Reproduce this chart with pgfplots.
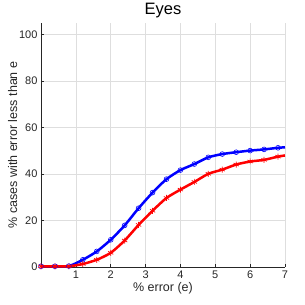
\documentclass[border=0pt]{standalone}
\usepackage{pgfplots}
\pgfplotsset{compat=1.18}
\usepackage{fontspec}
\setmainfont{Liberation Sans}
\definecolor{axgray}{RGB}{38,38,38}
\definecolor{gridgray}{RGB}{222,222,222}
\begin{document}
\begin{tikzpicture}
\begin{axis}[
  name=ax,
  scale only axis,
  width=244pt, height=244pt,
  xmin=0, xmax=7, ymin=0, ymax=105,
  xtick={1,2,3,4,5,6,7},
  ytick={0,20,40,60,80,100},
  axis x line*=bottom, axis y line*=left,
  axis line style={axgray, line width=0.6pt},
  tick style={axgray, line width=0.5pt},
  tick align=inside,
  major tick length=3pt,
  grid=major,
  major grid style={gridgray, line width=0.5pt},
  ticklabel style={font=\fontsize{11}{13}\selectfont, text=axgray},
  /pgf/number format/assume math mode=true,
  xlabel={\% error (e)},
  ylabel={\% cases with error less than e},
  label style={font=\fontsize{12.5}{14}\selectfont, text=axgray},
  xlabel style={yshift=3pt},
  ylabel style={yshift=-5pt},
  title={Eyes},
  title style={font=\fontsize{16.5}{18}\selectfont, yshift=-4pt},
  clip=false,
]
% blue line
\addplot[blue, line width=2.5pt, smooth, tension=0.4] table {
x y
0 0.3
0.4 0.3
0.8 0.4
1.2 3.1
1.6 6.7
2.0 11.7
2.4 17.9
2.8 25.3
3.2 32.0
3.6 37.8
4.0 41.7
4.4 44.3
4.8 47.2
5.2 48.6
5.6 49.4
6.0 50.1
6.4 50.6
6.8 51.3
7.0 51.5
};
\addplot[blue, only marks, mark=o, mark size=2.4pt, line width=0.6pt] table {
x y
0 0.3
0.4 0.3
0.8 0.4
1.2 3.1
1.6 6.7
2.0 11.7
2.4 17.9
2.8 25.3
3.2 32.0
3.6 37.8
4.0 41.7
4.4 44.3
4.8 47.2
5.2 48.6
5.6 49.4
6.0 50.1
6.4 50.6
6.8 51.3
};
% red line
\addplot[red, line width=2.5pt, smooth, tension=0.4] table {
x y
0 0.3
0.4 0.3
0.8 0.3
1.2 1.3
1.6 3.1
2.0 6.1
2.4 11.4
2.8 18.1
3.2 24.2
3.6 29.7
4.0 33.3
4.4 36.6
4.8 40.1
5.2 41.9
5.6 44.1
6.0 45.4
6.4 46.1
6.8 47.5
7.0 48.0
};
\addplot[red, only marks, mark=asterisk, mark size=3pt, line width=0.7pt] table {
x y
0 0.3
0.4 0.3
0.8 0.3
1.2 1.3
1.6 3.1
2.0 6.1
2.4 11.4
2.8 18.1
3.2 24.2
3.6 29.7
4.0 33.3
4.4 36.6
4.8 40.1
5.2 41.9
5.6 44.1
6.0 45.4
6.4 46.1
6.8 47.5
};
\end{axis}
\pgfresetboundingbox
\path[use as bounding box] ([xshift=-41pt,yshift=-38pt]ax.south west) rectangle ([xshift=20pt,yshift=23pt]ax.north east);
\end{tikzpicture}
\end{document}
